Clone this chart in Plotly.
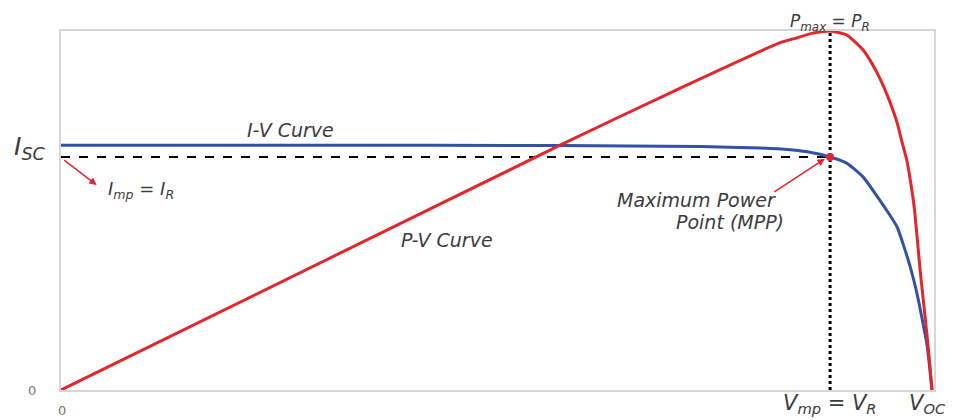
import plotly.graph_objects as go

# normalised voltage (Voc = 1) and current / power
iv_voltage = [0.0, 0.274, 0.573, 0.734, 0.803, 0.837, 0.860, 0.883, 0.902,
              0.921, 0.940, 0.950, 0.960, 0.968, 0.975, 0.981, 0.986, 0.990,
              0.994, 0.997, 1.0]
iv_current = [0.682, 0.682, 0.681, 0.678, 0.674, 0.669, 0.662, 0.649, 0.632,
              0.593, 0.529, 0.493, 0.454, 0.398, 0.343, 0.287, 0.231, 0.181,
              0.131, 0.070, 0.0]

pv_voltage = [0.0, 0.573, 0.711, 0.825, 0.845, 0.863, 0.883, 0.902, 0.921,
              0.930, 0.940, 0.950, 0.960, 0.965, 0.971, 0.976, 0.980, 0.986,
              0.990, 0.994, 0.997, 1.0]
pv_power = [0.0, 0.682, 0.841, 0.967, 0.981, 0.994, 1.0, 0.989, 0.947,
            0.914, 0.869, 0.813, 0.744, 0.696, 0.641, 0.571, 0.501, 0.343,
            0.251, 0.159, 0.084, 0.0]

v_mp = 0.883
i_mp = 0.649
i_sc = 0.682

FONT = "DejaVu Sans"
TXT = "#3c3c3c"
RED = "#e2262b"
BLUE = "#3352a6"

fig = go.Figure()

# guide lines to the MPP
fig.add_trace(go.Scatter(x=[0, v_mp], y=[i_mp, i_mp], mode="lines",
                         line=dict(color="black", width=2, dash="dash"),
                         hoverinfo="skip"))
fig.add_trace(go.Scatter(x=[v_mp, v_mp], y=[0, 1], mode="lines",
                         line=dict(color="black", width=3, dash="dot"),
                         hoverinfo="skip"))

fig.add_trace(go.Scatter(x=pv_voltage, y=pv_power, mode="lines", name="P-V",
                         line=dict(color=RED, width=3, shape="spline", smoothing=0.5),
                         yaxis="y2"))
fig.add_trace(go.Scatter(x=iv_voltage, y=iv_current, mode="lines", name="I-V",
                         line=dict(color=BLUE, width=3, shape="spline", smoothing=0.5)))

fig.add_trace(go.Scatter(x=[v_mp], y=[i_mp], mode="markers",
                         marker=dict(color=RED, size=8), hoverinfo="skip"))


def label(text, x, y, size=17, ref="data", color=TXT):
    r = ("x", "y") if ref == "data" else ("paper", "paper")
    fig.add_annotation(x=x, y=y, xref=r[0], yref=r[1], text=text, showarrow=False,
                       xanchor="center", yanchor="middle",
                       font=dict(family=FONT, size=size, color=color))


# inside the plot
label("<i>I-V Curve</i>", 0.264, 0.724, size=19)
label("<i>P-V Curve</i>", 0.443, 0.418, size=19)
label("<i>Maximum Power</i>", 0.730, 0.529, size=19)
label("<i>Point (MPP)</i>", 0.768, 0.468, size=19)
label("<i>I<sub>mp</sub> = I<sub>R</sub></i>", 0.092, 0.557, size=18)

# outside the plot
label("<i>I<sub>SC</sub></i>", -0.036, 0.675, size=25, ref="paper")
label("0", -0.033, 0.0, size=13, ref="paper", color="#777777")
label("0", 0.001, -0.056, size=13, ref="paper", color="#777777")
label("<i>P<sub>max</sub> = P<sub>R</sub></i>", 0.881, 1.025, size=17, ref="paper")
label("<i>V<sub>mp</sub> = V<sub>R</sub></i>", 0.881, -0.04, size=21, ref="paper")
label("<i>V<sub>OC</sub></i>", 0.992, -0.04, size=21, ref="paper")

# red arrows
fig.add_annotation(x=0.041, y=0.571, ax=-34, ay=-26, text="", showarrow=True,
                   arrowhead=2, arrowsize=1, arrowwidth=1.5, arrowcolor=RED)
fig.add_annotation(x=0.877, y=0.644, ax=-52, ay=34, text="", showarrow=True,
                   arrowhead=2, arrowsize=1, arrowwidth=1.5, arrowcolor=RED)

axis_style = dict(showgrid=False, zeroline=False, showticklabels=False, ticks="",
                  showline=True, mirror=True, linecolor="#d6d6d6", linewidth=2)

# page body adds an 8px margin, so the figure is shrunk by that amount
fig.update_layout(
    width=945, height=412,
    margin=dict(l=53, r=19, t=23, b=30),
    paper_bgcolor="white", plot_bgcolor="white",
    showlegend=False,
    xaxis=dict(range=[0, 1.0023], **axis_style),
    yaxis=dict(range=[0, 1], **axis_style),
    yaxis2=dict(range=[0, 1], overlaying="y", showgrid=False, zeroline=False,
                showticklabels=False, ticks="", showline=False),
)

fig.write_html("out.html")
